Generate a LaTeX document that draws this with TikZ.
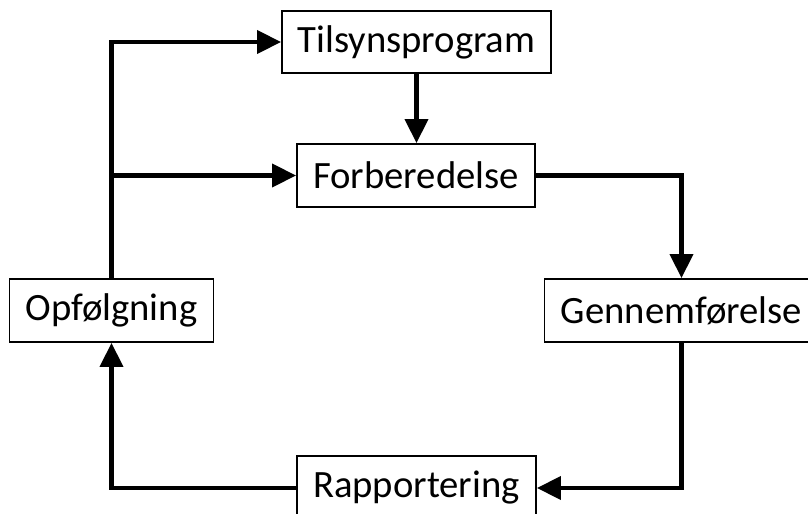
\documentclass[tikz,border=0pt]{standalone}
\usepackage{fontspec}
\setmainfont{Carlito}
\usetikzlibrary{arrows.meta}
\begin{document}
\begin{tikzpicture}[x=0.75pt,y=-0.75pt,
  stepbox/.style={draw=black,fill=white,line width=1.3pt,inner sep=0pt,
    font=\fontsize{29}{35}\selectfont},
  flow/.style={line width=3.6pt,-{Triangle[length=18pt,width=17pt]}},
  link/.style={line width=3.6pt}]
\useasboundingbox (0,0) rectangle (808,514);
\clip (0,0) rectangle (808,514);
\fill[white] (0,0) rectangle (808,514);

% process steps
\node[stepbox,minimum width=201.75pt,minimum height=46.5pt] (tils) at (416.5,42) {Tilsynsprogram};
\node[stepbox,minimum width=178.5pt,minimum height=47.25pt] (forb) at (416,175.5) {Forberedelse};
\node[stepbox,minimum width=153pt,minimum height=47.25pt] (opf) at (111.5,310.5) {Opfølgning};
\node[stepbox,minimum width=205.5pt,minimum height=47.25pt] (genn) at (681.5,310.5) {Gennemførelse};
\node[stepbox,minimum width=179.25pt,minimum height=48pt] (rapp) at (416.5,488) {Rapportering};

% feedback branch points on the left
\coordinate (top) at (opf.north |- tils.west);
\coordinate (mid) at (opf.north |- forb.west);

% connectors
\draw[flow] (tils.south) -- (tils.south |- forb.north);
\draw[flow] (forb.east) -| (genn.north);
\draw[flow] (genn.south) |- (rapp.east);
\draw[flow] (rapp.west) -| (opf.south);
\draw[link,line join=miter] (opf.north) -- (top);
\draw[flow] ([xshift=-1.8pt]top) -- (tils.west);
\draw[flow] (mid) -- (forb.west);
\end{tikzpicture}
\end{document}
